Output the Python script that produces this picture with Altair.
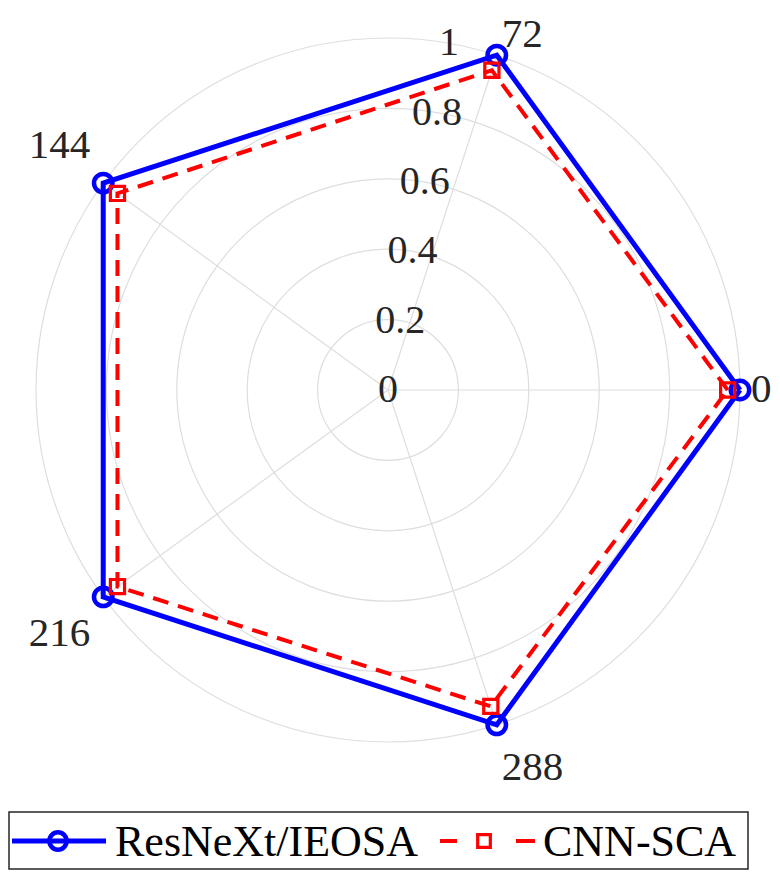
import math
import altair as alt
import pandas as pd

# ---- data ----
theta_ticks = [0, 72, 144, 216, 288]
theta_labels = ["0", "72", "144", "216", "288"]
r_ticks = [0, 0.2, 0.4, 0.6, 0.8, 1.0]
r_labels = ["0", "0.2", "0.4", "0.6", "0.8", "1"]
series_names = ["ResNeXt/IEOSA", "CNN-SCA"]
resnext_vals = [1.0, 1.0, 1.0, 1.0, 1.0]
cnnsca_vals = [0.965, 0.955, 0.95, 0.95, 0.945]

# ---- layout ----
W, H = 764, 862
CX, CY = 380, 382
R = 352
GRID = "#dedede"
TXT = "#262626"
FONT = "Liberation Serif, Times New Roman, Times, serif"

xs = alt.Scale(domain=[-CX / R, (W - CX) / R], nice=False, zero=False)
ys = alt.Scale(domain=[-(H - CY) / R, CY / R], nice=False, zero=False)


def X(f):
    return alt.X(f, scale=xs, axis=None)


def Y(f):
    return alt.Y(f, scale=ys, axis=None)


# polygon table (closed: first point repeated)
rows = []
for name, vals in zip(series_names, [resnext_vals, cnnsca_vals]):
    n = len(theta_ticks)
    for i in range(n + 1):
        rows.append({"series": name, "a": theta_ticks[i % n], "v": vals[i % n], "o": i})
poly_df = pd.DataFrame(rows)

ang_df = pd.DataFrame({"a": theta_ticks, "label": theta_labels})
rt_df = pd.DataFrame({"r": r_ticks, "label": r_labels})
one = pd.DataFrame({"k": [0]})

# grid circles: radius taken from the x scale
circles = (
    alt.Chart(rt_df[rt_df["r"] > 0])
    .transform_calculate(cx="0", cy="0")
    .mark_arc(
        theta=0,
        theta2=2 * math.pi,
        radius=alt.expr("scale('x', datum.r) - scale('x', 0)"),
        fillOpacity=0,
        stroke=GRID,
        strokeWidth=1.2,
    )
    .encode(x=X("cx:Q"), y=Y("cy:Q"))
)

# spokes
spokes = (
    alt.Chart(ang_df)
    .transform_calculate(
        x0="0",
        y0="0",
        x1="cos(datum.a*PI/180)",
        y1="sin(datum.a*PI/180)",
    )
    .mark_rule(color=GRID, strokeWidth=1.2)
    .encode(x=X("x0:Q"), y=Y("y0:Q"), x2="x1:Q", y2="y1:Q")
)

base_poly = alt.Chart(poly_df).transform_calculate(
    px="datum.v*cos(datum.a*PI/180)", py="datum.v*sin(datum.a*PI/180)"
)

blue_line = (
    base_poly.transform_filter(alt.datum.series == series_names[0])
    .mark_line(color="#0000ff", strokeWidth=5)
    .encode(x=X("px:Q"), y=Y("py:Q"), order="o:Q")
)
blue_pts = (
    base_poly.transform_filter((alt.datum.series == series_names[0]) & (alt.datum.o < 5))
    .mark_point(shape="circle", filled=False, color="#0000ff", size=340, strokeWidth=4.5, opacity=1)
    .encode(x=X("px:Q"), y=Y("py:Q"))
)
red_line = (
    base_poly.transform_filter(alt.datum.series == series_names[1])
    .mark_line(color="#ff0000", strokeWidth=4, strokeDash=[16, 10])
    .encode(x=X("px:Q"), y=Y("py:Q"), order="o:Q")
)
red_pts = (
    base_poly.transform_filter((alt.datum.series == series_names[1]) & (alt.datum.o < 5))
    .mark_point(shape="square", filled=False, color="#ff0000", size=200, strokeWidth=3.2, opacity=1)
    .encode(x=X("px:Q"), y=Y("py:Q"))
)

# radial tick labels along 80 degrees
r_text = (
    alt.Chart(rt_df)
    .transform_calculate(tx="datum.r*cos(80*PI/180)", ty="datum.r*sin(80*PI/180)")
    .mark_text(font=FONT, fontSize=40, color=TXT, align="center", baseline="middle")
    .encode(x=X("tx:Q"), y=Y("ty:Q"), text="label:N")
)

# angular tick labels
LR = 368 / R
XMAX = (W - CX - 21) / R
t_text = (
    alt.Chart(ang_df)
    .transform_calculate(
        ca="cos(datum.a*PI/180)",
        sa="sin(datum.a*PI/180)",
        tx=f"min({LR}*cos(datum.a*PI/180), {XMAX})",
        ty=f"min({LR}*sin(datum.a*PI/180) + (datum.a == 0 ? 0 : (sin(datum.a*PI/180) > 0 ? 7 : -8))/{R}, 0.95)",
    )
    .mark_text(
        font=FONT,
        fontSize=41,
        color=TXT,
        align=alt.expr("datum.ca > 0.01 ? 'left' : (datum.ca < -0.01 ? 'right' : 'center')"),
        baseline=alt.expr("datum.sa > 0.01 ? 'bottom' : (datum.sa < -0.01 ? 'top' : 'middle')"),
    )
    .encode(x=X("tx:Q"), y=Y("ty:Q"), text="label:N")
)

# legend (drawn manually, MATLAB style)
LY = 833
leg_box = alt.Chart(one).mark_rect(fill="white", stroke=TXT, strokeWidth=1.5).encode(
    x=alt.value(1), x2=alt.value(740), y=alt.value(804), y2=alt.value(861)
)
leg_blue_line = alt.Chart(one).mark_rule(color="#0000ff", strokeWidth=5).encode(
    x=alt.value(4), x2=alt.value(98), y=alt.value(LY)
)
leg_blue_pt = alt.Chart(one).mark_point(
    shape="circle", filled=False, color="#0000ff", size=300, strokeWidth=4.5, opacity=1
).encode(x=alt.value(50), y=alt.value(LY))
leg_blue_txt = alt.Chart(one).mark_text(
    font=FONT, fontSize=44, color="black", align="left", baseline="middle"
).encode(x=alt.value(107), y=alt.value(LY + 2), text=alt.value(series_names[0]))
leg_red_l1 = alt.Chart(one).mark_rule(color="#ff0000", strokeWidth=4).encode(
    x=alt.value(432), x2=alt.value(449), y=alt.value(LY)
)
leg_red_l2 = alt.Chart(one).mark_rule(color="#ff0000", strokeWidth=4).encode(
    x=alt.value(508), x2=alt.value(527), y=alt.value(LY)
)
leg_red_pt = alt.Chart(one).mark_point(
    shape="square", filled=False, color="#ff0000", size=160, strokeWidth=3.2, opacity=1
).encode(x=alt.value(476), y=alt.value(LY))
leg_red_txt = alt.Chart(one).mark_text(
    font=FONT, fontSize=44, color="black", align="left", baseline="middle"
).encode(x=alt.value(535), y=alt.value(LY + 2), text=alt.value(series_names[1]))

chart = (
    alt.layer(
        circles,
        spokes,
        r_text,
        blue_line,
        blue_pts,
        red_line,
        red_pts,
        t_text,
        leg_box,
        leg_blue_line,
        leg_blue_pt,
        leg_blue_txt,
        leg_red_l1,
        leg_red_l2,
        leg_red_pt,
        leg_red_txt,
    )
    .properties(width=W, height=H, padding=0, autosize=alt.AutoSizeParams(type="none"))
    .configure_view(stroke="transparent")
)

chart.save("out.html", embed_options={"renderer": "svg", "actions": False})
